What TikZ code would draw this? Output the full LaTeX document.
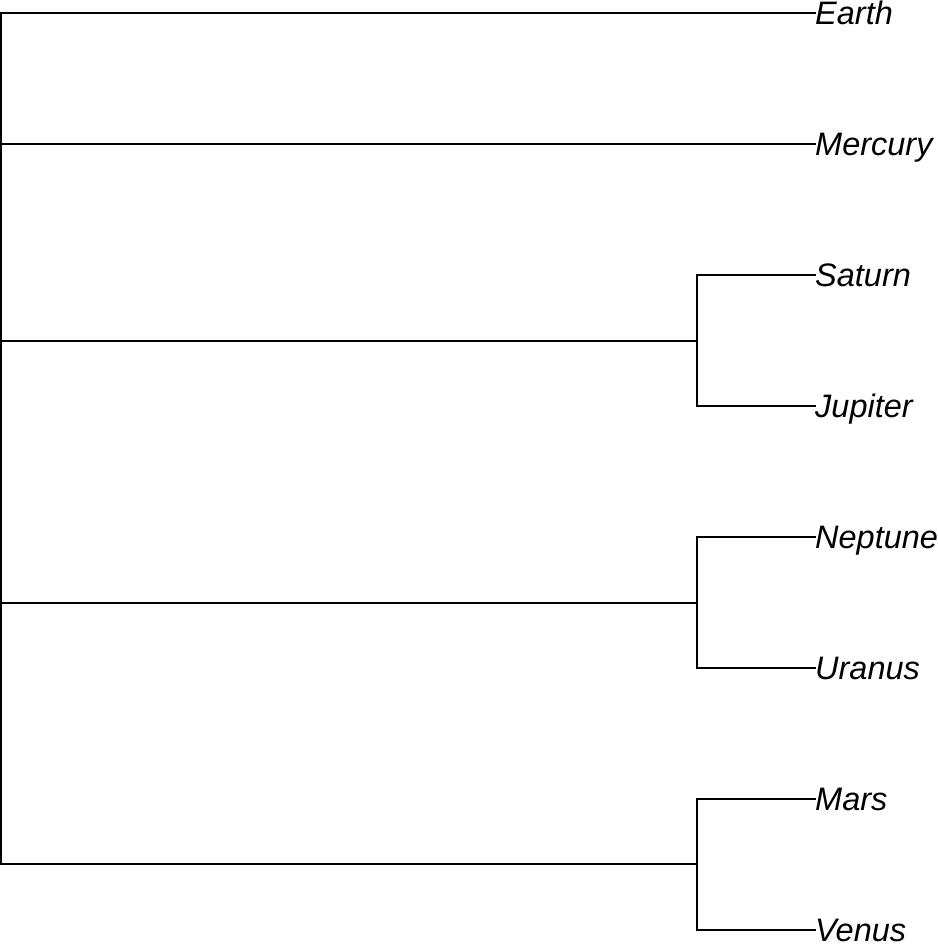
\documentclass[tikz,border=0pt]{standalone}
\usepackage{fontspec}
\setmainfont{Liberation Sans}
\begin{document}
\begin{tikzpicture}[x=1pt,y=-1pt,
  edge/.style={line width=1.6pt,line cap=rect},
  leaf/.style={anchor=base west,inner sep=0pt,font=\fontsize{32.5}{38}\selectfont\itshape,yshift=-11.5pt}]
\useasboundingbox (0,0) rectangle (937,947);
% root and internal nodes
\coordinate (root) at (1,13);
\coordinate (rootb) at (1,864);
\coordinate (n1) at (697,341);
\coordinate (n2) at (697,603);
\coordinate (n3) at (697,864);
\coordinate (r1) at (1,341);
\coordinate (r2) at (1,603);
\coordinate (r3) at (1,864);
\coordinate (rm) at (1,144);
% leaf tips
\coordinate (tE) at (815,13);
\coordinate (tMe) at (815,144);
\coordinate (tS) at (815,275);
\coordinate (tJ) at (815,406);
\coordinate (tN) at (815,537);
\coordinate (tU) at (815,668);
\coordinate (tMa) at (815,799);
\coordinate (tV) at (815,930);
\node[leaf] (Earth) at (tE) {Earth};
\node[leaf] (Mercury) at (tMe) {Mercury};
\node[leaf] (Saturn) at (tS) {Saturn};
\node[leaf] (Jupiter) at (tJ) {Jupiter};
\node[leaf] (Neptune) at (tN) {Neptune};
\node[leaf] (Uranus) at (tU) {Uranus};
\node[leaf] (Mars) at (tMa) {Mars};
\node[leaf] (Venus) at (tV) {Venus};
% edges
\draw[edge] (root) -- (rootb);
\draw[edge] (root) -- (tE);
\draw[edge] (rm) -- (tMe);
\draw[edge] (r1) -- (n1);
\draw[edge] (r2) -- (n2);
\draw[edge] (r3) -- (n3);
\draw[edge] (tS) -| (n1) |- (tJ);
\draw[edge] (tN) -| (n2) |- (tU);
\draw[edge] (tMa) -| (n3) |- (tV);
\end{tikzpicture}
\end{document}
